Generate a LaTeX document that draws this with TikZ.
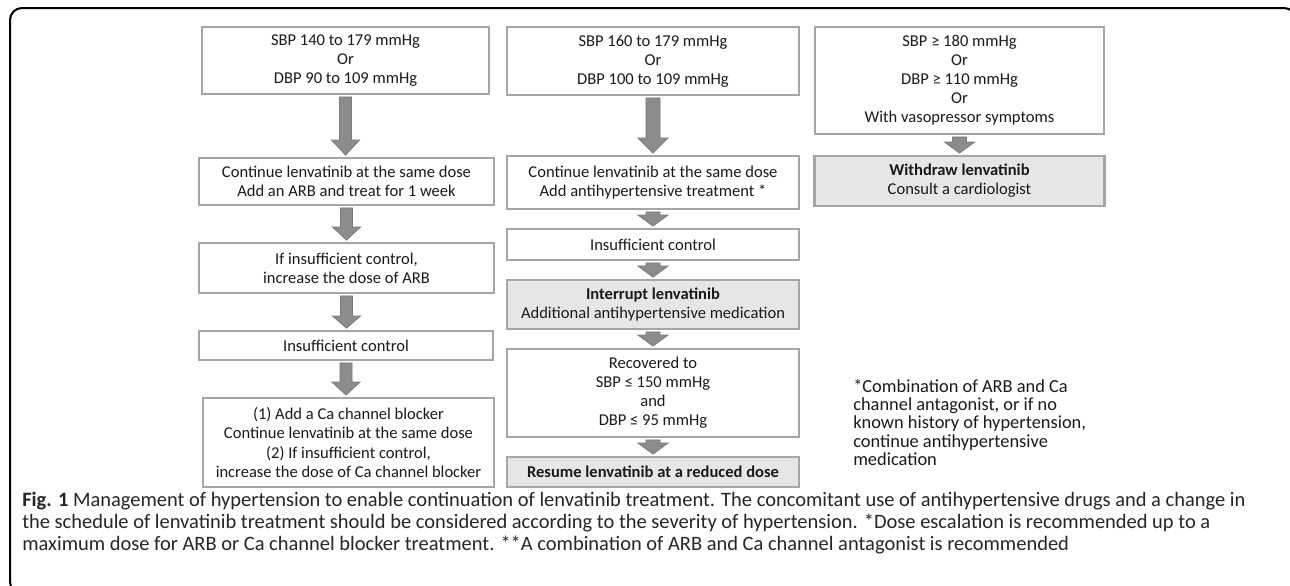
\documentclass[tikz,border=0pt]{standalone}
\usepackage{fontspec}
\setmainfont{Carlito}
\usetikzlibrary{calc}
\definecolor{boxgray}{HTML}{A6A6A6}
\definecolor{shade}{HTML}{E6E6E6}
\definecolor{arrowfill}{HTML}{8C8C8C}
\definecolor{arrowline}{HTML}{7A7A7A}
\definecolor{txt}{HTML}{1A1A1A}
\definecolor{captxt}{HTML}{262626}
\newcommand{\blockarrow}[5]{%
  \filldraw[arrowstyle] let \p1=(#1.south), \p2=(#2.north) in
  (\x1-#3*0.75pt,\y1-1.1pt) -- (\x1+#3*0.75pt,\y1-1.1pt)
  -- (\x1+#3*0.75pt,\y2+1.1pt+#5*0.75pt) -- (\x1+#4*0.75pt,\y2+1.1pt+#5*0.75pt)
  -- (\x1,\y2+1.1pt) -- (\x1-#4*0.75pt,\y2+1.1pt+#5*0.75pt)
  -- (\x1-#3*0.75pt,\y2+1.1pt+#5*0.75pt) -- cycle;}
\begin{document}
\begin{tikzpicture}[x=0.75pt,y=-0.75pt,
  box/.style={draw=boxgray, line width=2.2pt, fill=white, align=center,
    inner sep=0pt, text=txt, font=\fontsize{12.4}{14.3}\selectfont},
  shaded/.style={box, fill=shade},
  sz/.style 2 args={minimum width=#1*0.75pt, minimum height=#2*0.75pt},
  arrowstyle/.style={fill=arrowfill, draw=arrowline, line width=0.6pt, line join=miter},
  note/.style={anchor=north west, align=left, inner sep=0pt, text=txt,
    font=\fontsize{13.8}{13.7}\selectfont},
  caption/.style={anchor=north west, align=left, inner sep=0pt, text=captxt,
    font=\fontsize{15.35}{16.5}\selectfont}]
\useasboundingbox (0,0) rectangle (1290,586);
\fill[white] (0,0) rectangle (1290,586);
\draw[line width=1.5pt, rounded corners=9pt] (10,8) rectangle (1296,594);

% column 1
\node[box, sz={287}{67}] (a1) at (345.5,60.5) {SBP 140 to 179 mmHg\\Or\\DBP 90 to 109 mmHg};
\node[box, sz={295}{47}] (a2) at (346.5,181.5) {Continue lenvatinib at the same dose\\Add an ARB and treat for 1 week};
\node[box, sz={295}{50}] (a3) at (346.5,268) {If insufficient control,\\increase the dose of ARB};
\node[box, sz={294}{29}] (a4) at (346,345.5) {Insufficient control};
\node[box, sz={291}{89}] (a5) at (348.5,442.5) {(1) Add a Ca channel blocker\\Continue lenvatinib at the same dose\\(2) If insufficient control,\\increase the dose of Ca channel blocker};

% column 2
\node[box, sz={292}{68}] (b1) at (653,61) {SBP 160 to 179 mmHg\\Or\\DBP 100 to 109 mmHg};
\node[box, sz={292}{53}] (b2) at (653,182.5) {Continue lenvatinib at the same dose\\Add antihypertensive treatment *};
\node[box, sz={292}{31}] (b3) at (653,244.5) {Insufficient control};
\node[shaded, sz={292}{49}] (b4) at (653,304.5) {\textbf{Interrupt lenvatinib}\\Additional antihypertensive medication};
\node[box, sz={292}{88}] (b5) at (653,393) {Recovered to\\SBP ≤ 150 mmHg\\and\\DBP ≤ 95 mmHg};
\node[shaded, sz={292}{30}] (b6) at (653,472) {\textbf{Resume lenvatinib at a reduced dose}};

% column 3
\node[box, sz={289}{107}] (c1) at (959.5,80.5) {SBP ≥ 180 mmHg\\Or\\DBP ≥ 110 mmHg\\Or\\With vasopressor symptoms};
\node[shaded, sz={290}{50}] (c2) at (959.5,181) {\textbf{Withdraw lenvatinib}\\Consult a cardiologist};

% arrows
\blockarrow{a1}{a2}{6}{14}{15}
\blockarrow{a2}{a3}{6}{14}{13}
\blockarrow{a3}{a4}{6}{14}{12}
\blockarrow{a4}{a5}{6}{14}{13}
\blockarrow{b1}{b2}{7}{15}{15}
\blockarrow{b2}{b3}{7}{15}{11}
\blockarrow{b3}{b4}{7}{15}{11}
\blockarrow{b4}{b5}{7}{15}{11}
\blockarrow{b5}{b6}{7}{15}{11}
\blockarrow{c1}{c2}{7}{15}{11}

\node[note] (fn) at (853,379) {*Combination of ARB and Ca\\channel antagonist, or if no\\known history of hypertension,\\continue antihypertensive\\medication};

\node[caption] (cap) at (22,492) {\textbf{Fig. 1} Management of hypertension to enable continuation of lenvatinib treatment. The concomitant use of antihypertensive drugs and a change in\\the schedule of lenvatinib treatment should be considered according to the severity of hypertension. *Dose escalation is recommended up to a\\maximum dose for ARB or Ca channel blocker treatment. **A combination of ARB and Ca channel antagonist is recommended};
\end{tikzpicture}
\end{document}
